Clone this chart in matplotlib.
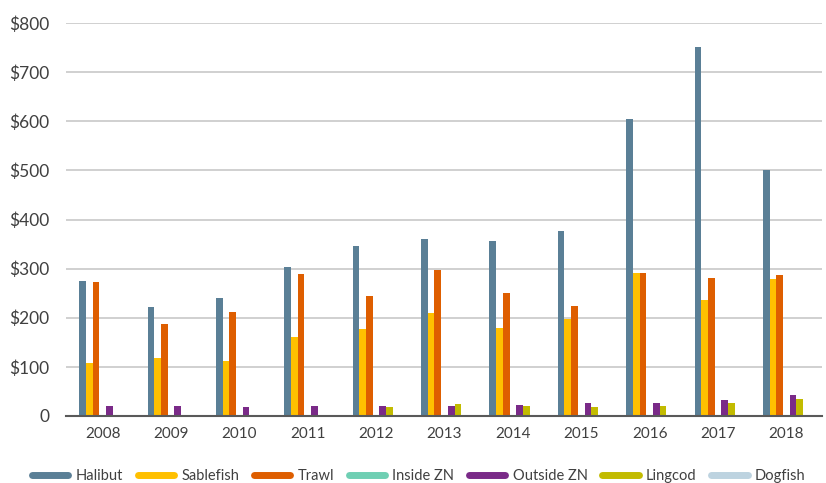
import matplotlib.pyplot as plt
import numpy as np

plt.rcParams['font.family'] = ['Lato', 'DejaVu Sans']

years = ['2008', '2009', '2010', '2011', '2012', '2013', '2014', '2015', '2016', '2017', '2018']
halibut = [275, 222, 240, 303, 346, 360, 356, 376, 605, 752, 500]
sablefish = [108, 118, 112, 160, 176, 210, 180, 197, 292, 237, 278]
trawl = [273, 188, 212, 288, 245, 298, 250, 224, 292, 280, 287]
inside_zn = [0, 0, 0, 0, 0, 0, 0, 0, 0, 0, 0]
outside_zn = [20, 20, 18, 20, 20, 20, 22, 26, 26, 32, 43]
lingcod = [0, 0, 0, 0, 18, 24, 20, 18, 20, 26, 35]
dogfish = [0, 0, 0, 0, 2, 0, 0, 0, 0, 0, 0]

series = [('Halibut', halibut, '#5a7f96'),
          ('Sablefish', sablefish, '#ffc000'),
          ('Trawl', trawl, '#de5e00'),
          ('Inside ZN', inside_zn, '#6fcfb3'),
          ('Outside ZN', outside_zn, '#7a2a88'),
          ('Lingcod', lingcod, '#c2bb00'),
          ('Dogfish', dogfish, '#bdd3e0')]

fig = plt.figure(figsize=(8.26, 4.83), dpi=100)
ax = fig.add_axes([0.08, 0.139, 0.915, 0.813])

x = np.arange(len(years))
w = 0.098
for i, (name, vals, col) in enumerate(series):
    ax.bar(x + (i - 3) * w, vals, w, color=col, zorder=3)
    ax.plot([], [], color=col, lw=5, solid_capstyle='round', label=name)

ax.set_xlim(-0.535, 10.52)
ax.set_ylim(0, 800)
ax.set_yticks(range(0, 801, 100))
ax.set_yticklabels(['0'] + ['$%d' % v for v in range(100, 801, 100)])
ax.set_xticks(x)
ax.set_xticklabels(years)
ax.grid(axis='y', color='#c8c8c8', lw=1.2, zorder=0)
for s in ['top', 'right', 'left']:
    ax.spines[s].set_visible(False)
ax.spines['bottom'].set_color('#595959')
ax.spines['bottom'].set_linewidth(1.5)
ax.spines['bottom'].set_zorder(4)
ax.tick_params(axis='y', length=0, labelsize=12.5, colors='#404040', pad=12)
ax.tick_params(axis='x', length=0, labelsize=11, colors='#404040', pad=8)

fig.legend(loc='lower center', bbox_to_anchor=(0.507, -0.027), ncol=7, frameon=False,
           fontsize=10.5, labelcolor='#404040', handlelength=2.5, columnspacing=1.0,
           handletextpad=0.5)

plt.savefig('out.png')
